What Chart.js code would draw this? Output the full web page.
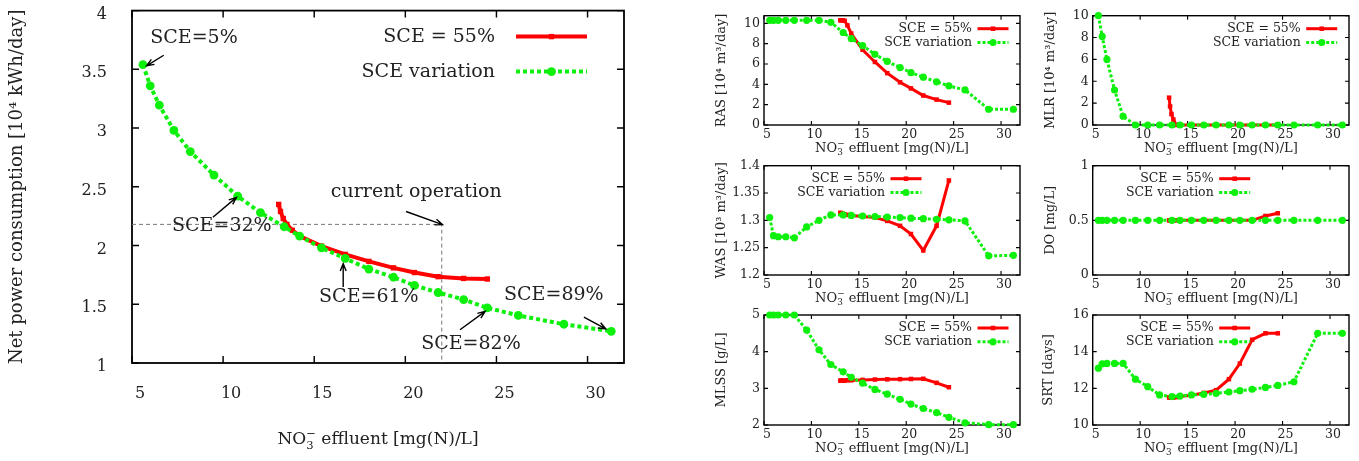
<!DOCTYPE html>
<html>
<head>
<meta charset="utf-8">
<script src="https://cdn.jsdelivr.net/npm/chart.js@4.4.1/dist/chart.umd.min.js"></script>
<style>
  html, body { margin: 0; padding: 0; background: #fff; }
  body { width: 1359px; height: 461px; position: relative; overflow: hidden; }
  canvas { position: absolute; }
</style>
</head>
<body>
<canvas id="main" width="640" height="461" style="left:0;top:0"></canvas>
<canvas id="ras"  width="335" height="160" style="left:690px;top:0"></canvas>
<canvas id="mlr"  width="334" height="160" style="left:1025px;top:0"></canvas>
<canvas id="was"  width="335" height="160" style="left:690px;top:150px"></canvas>
<canvas id="do"   width="334" height="160" style="left:1025px;top:150px"></canvas>
<canvas id="mlss" width="335" height="160" style="left:690px;top:300px"></canvas>
<canvas id="srt"  width="334" height="161" style="left:1025px;top:300px"></canvas>
<script>
// NO3 effluent for each run (SCE variation / fixed SCE = 55%)
const sceX = [5.6, 6.0, 6.5, 7.3, 8.2, 9.5, 10.8, 12.05, 13.35, 14.2, 15.4, 16.7, 18.0, 19.35, 20.5, 21.8, 23.2, 24.5, 26.2, 28.7, 31.3];
const fixX = [13.05, 13.15, 13.3, 13.5, 13.8, 14.2, 15.4, 16.7, 18.0, 19.35, 20.5, 21.8, 23.2, 24.5];

const powerVar = [3.54, 3.36, 3.195, 2.98, 2.80, 2.60, 2.42, 2.28, 2.16, 2.08, 1.98, 1.89, 1.80, 1.73, 1.66, 1.60, 1.54, 1.47, 1.405, 1.33, 1.27];
const powerFix = [2.35, 2.29, 2.23, 2.18, 2.13, 2.08, 1.995, 1.925, 1.865, 1.81, 1.77, 1.735, 1.72, 1.715];

const rasVar = [10.3, 10.3, 10.3, 10.3, 10.3, 10.3, 10.3, 10.1, 9.1, 8.5, 7.8, 6.95, 6.25, 5.65, 5.15, 4.7, 4.25, 3.85, 3.45, 1.55, 1.55];
const rasFix = [10.3, 10.3, 10.3, 10.25, 9.8, 9.0, 7.4, 6.2, 5.1, 4.2, 3.6, 2.9, 2.5, 2.2];

const mlrVar = [10, 8.1, 6.0, 3.2, 0.8, 0, 0, 0, 0, 0, 0, 0, 0, 0, 0, 0, 0, 0, 0, 0, 0];
const mlrFix = [2.5, 1.7, 1.0, 0.5, 0, 0, 0, 0, 0, 0, 0, 0, 0, 0];

const wasVar = [1.305, 1.272, 1.27, 1.27, 1.268, 1.288, 1.30, 1.31, 1.31, 1.309, 1.308, 1.307, 1.306, 1.305, 1.304, 1.303, 1.302, 1.301, 1.299, 1.235, 1.236];
const wasFix = [1.314, 1.313, 1.312, 1.311, 1.31, 1.309, 1.307, 1.305, 1.299, 1.29, 1.275, 1.245, 1.29, 1.373];

const doVar = [0.5, 0.5, 0.5, 0.5, 0.5, 0.5, 0.5, 0.5, 0.5, 0.5, 0.5, 0.5, 0.5, 0.5, 0.5, 0.5, 0.5, 0.5, 0.5, 0.5, 0.5];
const doFix = [0.5, 0.5, 0.5, 0.5, 0.5, 0.5, 0.5, 0.5, 0.5, 0.5, 0.5, 0.5, 0.54, 0.565];

const mlssVar = [5, 5, 5, 5, 5, 4.59, 4.05, 3.65, 3.45, 3.3, 3.14, 2.97, 2.84, 2.7, 2.57, 2.45, 2.34, 2.21, 2.06, 2.01, 2.01];
const mlssFix = [3.21, 3.21, 3.21, 3.21, 3.22, 3.22, 3.23, 3.24, 3.245, 3.25, 3.255, 3.26, 3.15, 3.03];

const srtVar = [13.1, 13.33, 13.36, 13.36, 13.36, 12.5, 12.09, 11.64, 11.55, 11.58, 11.64, 11.67, 11.73, 11.8, 11.87, 11.95, 12.05, 12.16, 12.36, 15.0, 15.0];
const srtFix = [11.5, 11.5, 11.5, 11.5, 11.52, 11.55, 11.62, 11.75, 11.9, 12.5, 13.35, 14.65, 15.0, 15.0];

// ticks
const xTicks = [5, 10, 15, 20, 25, 30];
const powerTicks = [1, 1.5, 2, 2.5, 3, 3.5, 4];
const rasTicks = [0, 2, 4, 6, 8, 10];
const mlrTicks = [0, 2, 4, 6, 8, 10];
const wasTicks = [1.2, 1.25, 1.3, 1.35, 1.4];
const doTicks = [0, 0.5, 1];
const mlssTicks = [2, 3, 4, 5];
const srtTicks = [10, 12, 14, 16];

const seriesLabels = ['SCE = 55%', 'SCE variation'];
const xTitleParts = ['NO', '3', '\u2212', ' effluent [mg(N)/L]'];

// current operation point
const opX = 22.0, opY = 2.18;

// annotations on the big chart
const noteText = ['SCE=5%', 'SCE=32%', 'current operation', 'SCE=61%', 'SCE=82%', 'SCE=89%'];
const noteX = [8.4, 9.93, 20.6, 18.0, 23.6, 28.15];
const noteY = [3.77, 2.165, 2.456, 1.563, 1.164, 1.575];
const arrowFrom = [[6.74, 3.62], [9.44, 2.24], [20.04, 2.29], [16.59, 1.647], [23.0, 1.283], [29.8, 1.39]];
const arrowTo = [[5.8, 3.53], [10.73, 2.41], [22.04, 2.178], [16.59, 1.846], [24.38, 1.44], [31.0, 1.29]];

const FONT = "'DejaVu Serif', 'Liberation Serif', serif";
const INK = '#222';
const RED = '#ff0000';
const GREEN = '#0cf00c';

const pts = (xs, ys) => xs.map((x, i) => ({ x, y: ys[i] }));

// box + gnuplot-like inward ticks on all sides
const framePlugin = {
  id: 'frame',
  beforeDatasetsDraw(chart, args, o) {
    if (!o.len) return;
    const { ctx, chartArea: a, scales } = chart;
    ctx.save();
    ctx.strokeStyle = '#000';
    ctx.lineWidth = o.width;
    ctx.strokeRect(a.left, a.top, a.right - a.left, a.bottom - a.top);
    ctx.lineWidth = o.width * 0.8;
    ctx.beginPath();
    scales.x.ticks.forEach(t => {
      const px = scales.x.getPixelForValue(t.value);
      ctx.moveTo(px, a.bottom); ctx.lineTo(px, a.bottom - o.len);
      ctx.moveTo(px, a.top); ctx.lineTo(px, a.top + o.len);
    });
    scales.y.ticks.forEach(t => {
      const py = scales.y.getPixelForValue(t.value);
      ctx.moveTo(a.left, py); ctx.lineTo(a.left + o.len, py);
      ctx.moveTo(a.right, py); ctx.lineTo(a.right - o.len, py);
    });
    ctx.stroke();
    ctx.restore();
  }
};

// key: text right aligned, sample line to its right
const keyPlugin = {
  id: 'key',
  afterDatasetsDraw(chart, args, o) {
    if (!o.size) return;
    const { ctx, chartArea: a } = chart;
    const tx = a.left + o.x;
    ctx.save();
    ctx.font = o.size + 'px ' + FONT;
    ctx.textAlign = 'right';
    ctx.textBaseline = 'middle';
    chart.data.datasets.filter(d => d.label).forEach((d, i) => {
      const y = a.top + o.y + i * o.gap;
      ctx.fillStyle = INK;
      ctx.fillText(d.label, tx, y);
      const x0 = tx + o.off, x1 = x0 + o.len;
      ctx.strokeStyle = d.borderColor;
      ctx.lineWidth = d.borderWidth;
      ctx.setLineDash(d.borderDash || []);
      ctx.beginPath(); ctx.moveTo(x0, y); ctx.lineTo(x1, y); ctx.stroke();
      ctx.setLineDash([]);
      ctx.fillStyle = d.backgroundColor;
      Chart.helpers.drawPoint(ctx, { pointStyle: d.pointStyle, radius: d.pointRadius, rotation: 0, borderWidth: 0 }, (x0 + x1) / 2, y);
    });
    ctx.restore();
  }
};

// x title with stacked sub/superscript on NO3-
const xTitlePlugin = {
  id: 'xTitle',
  afterDraw(chart, args, o) {
    if (!o.size) return;
    const { ctx, chartArea: a } = chart;
    const big = o.size + 'px ' + FONT, small = (o.size * 0.68) + 'px ' + FONT;
    ctx.save();
    ctx.fillStyle = INK;
    ctx.textAlign = 'left';
    ctx.textBaseline = 'alphabetic';
    ctx.font = big;
    const w1 = ctx.measureText(xTitleParts[0]).width, w3 = ctx.measureText(xTitleParts[3]).width;
    ctx.font = small;
    const w2 = Math.max(ctx.measureText(xTitleParts[1]).width, ctx.measureText(xTitleParts[2]).width);
    let x = (a.left + a.right) / 2 - (w1 + w2 + w3) / 2;
    const y = a.bottom + o.dy;
    ctx.font = big; ctx.fillText(xTitleParts[0], x, y); x += w1;
    ctx.font = small;
    ctx.fillText(xTitleParts[1], x, y + o.size * 0.28);
    ctx.fillText(xTitleParts[2], x, y - o.size * 0.42);
    x += w2;
    ctx.font = big; ctx.fillText(xTitleParts[3], x, y);
    ctx.restore();
  }
};

// labels and arrows on the big chart
const notesPlugin = {
  id: 'notes',
  afterDatasetsDraw(chart, args, o) {
    if (!o.size) return;
    const { ctx, scales: { x, y } } = chart;
    ctx.save();
    ctx.font = o.size + 'px ' + FONT;
    ctx.textAlign = 'center';
    ctx.textBaseline = 'middle';
    ctx.fillStyle = INK;
    noteText.forEach((t, i) => ctx.fillText(t, x.getPixelForValue(noteX[i]), y.getPixelForValue(noteY[i])));
    ctx.strokeStyle = '#000';
    ctx.lineWidth = 1.4;
    arrowFrom.forEach((f, i) => {
      const x0 = x.getPixelForValue(f[0]), y0 = y.getPixelForValue(f[1]);
      const x1 = x.getPixelForValue(arrowTo[i][0]), y1 = y.getPixelForValue(arrowTo[i][1]);
      const ang = Math.atan2(y1 - y0, x1 - x0), h = 8, s = 0.38;
      ctx.beginPath();
      ctx.moveTo(x0, y0); ctx.lineTo(x1, y1);
      ctx.moveTo(x1 - h * Math.cos(ang - s), y1 - h * Math.sin(ang - s));
      ctx.lineTo(x1, y1);
      ctx.lineTo(x1 - h * Math.cos(ang + s), y1 - h * Math.sin(ang + s));
      ctx.stroke();
    });
    ctx.restore();
  }
};

Chart.register(framePlugin, keyPlugin, xTitlePlugin, notesPlugin);

function makeChart(id, cfg) {
  const big = cfg.big;
  const tickFont = { family: FONT, size: big ? 16 : 12.5 };
  const fixed = {
    label: seriesLabels[0],
    data: pts(fixX, cfg.fix),
    showLine: true,
    borderColor: RED,
    backgroundColor: RED,
    borderWidth: big ? 4 : 3,
    pointStyle: 'rect',
    pointRadius: big ? 3.8 : 3.2,
    pointBorderWidth: 0,
    clip: false,
    order: 1
  };
  const vary = {
    label: seriesLabels[1],
    data: pts(sceX, cfg.vary),
    showLine: true,
    borderColor: GREEN,
    backgroundColor: GREEN,
    borderWidth: big ? 4 : 3,
    borderDash: big ? [4, 3] : [3, 2],
    pointStyle: 'circle',
    pointRadius: big ? 4.4 : 3.6,
    pointBorderWidth: 0,
    clip: false,
    order: 0
  };
  const datasets = [fixed, vary];
  if (cfg.guide) {
    datasets.push({
      label: '',
      data: [{ x: 5, y: opY }, { x: opX, y: opY }, { x: opX, y: 1 }],
      showLine: true,
      borderColor: '#777',
      borderWidth: 1,
      borderDash: [4, 3],
      pointRadius: 0,
      order: 3
    });
  }
  return new Chart(document.getElementById(id), {
    type: 'scatter',
    data: { datasets },
    options: {
      responsive: false,
      animation: false,
      events: [],
      layout: { padding: cfg.pad },
      plugins: {
        legend: { display: false },
        tooltip: { enabled: false },
        frame: { len: big ? 7 : 4, width: big ? 1.8 : 1.4 },
        key: cfg.key,
        xTitle: { size: big ? 17 : 13, dy: big ? 81 : 26.5 },
        notes: big ? { size: 19 } : {}
      },
      scales: {
        x: {
          type: 'linear', min: 5, max: 32,
          afterBuildTicks: s => { s.ticks = xTicks.map(v => ({ value: v })); },
          afterFit: s => { s.height = cfg.xh; s.paddingLeft = 0; s.paddingRight = 0; },
          grid: { display: false, drawTicks: false },
          border: { display: false },
          ticks: { font: tickFont, color: INK, padding: big ? 21 : 2, labelOffset: big ? 8 : 3, maxRotation: 0, autoSkip: false, callback: v => String(v) }
        },
        y: {
          type: 'linear', min: cfg.ymin, max: cfg.ymax,
          afterBuildTicks: s => { s.ticks = cfg.yticks.map(v => ({ value: v })); },
          afterFit: s => { s.width = cfg.yw; s.paddingTop = 0; s.paddingBottom = 0; },
          grid: { display: false, drawTicks: false },
          border: { display: false },
          ticks: { font: tickFont, color: INK, padding: big ? 25 : 4, labelOffset: big ? 4 : 0, autoSkip: false, callback: v => String(v) },
          title: { display: true, text: cfg.ytitle, color: INK, font: { family: FONT, size: big ? 18 : 13 }, padding: { top: cfg.ytp } }
        }
      }
    }
  });
}

const keyTR = { size: 12.5, x: 208, y: 13, gap: 13.8, off: 5.5, len: 31 };
const keyTL = { size: 12.5, x: 121, y: 13, gap: 13.8, off: 5.5, len: 31 };
const padL = top => ({ left: 0, right: 5, top, bottom: 0 });
const padR = top => ({ left: 0, right: 10, top, bottom: 0 });

makeChart('main', {
  big: true, guide: true, fix: powerFix, vary: powerVar,
  ymin: 1, ymax: 4, yticks: powerTicks, ytitle: 'Net power consumption [10\u2074 kWh/day]',
  pad: { left: 0, right: 16, top: 10.6, bottom: 0 }, yw: 132, xh: 98, ytp: 7,
  key: { size: 19, x: 363, y: 26, gap: 35, off: 21, len: 71 }
});
makeChart('ras', { fix: rasFix, vary: rasVar, ymin: 0, ymax: 10.75, yticks: rasTicks, ytitle: 'RAS [10\u2074 m\u00b3/day]', pad: padL(15.7), yw: 74, xh: 35, ytp: 24, key: keyTR });
makeChart('mlr', { fix: mlrFix, vary: mlrVar, ymin: 0, ymax: 10, yticks: mlrTicks, ytitle: 'MLR [10\u2074 m\u00b3/day]', pad: padR(15.7), yw: 67.7, xh: 35, ytp: 18, key: keyTR });
makeChart('was', { fix: wasFix, vary: wasVar, ymin: 1.2, ymax: 1.4, yticks: wasTicks, ytitle: 'WAS [10\u00b3 m\u00b3/day]', pad: padL(15.7), yw: 74, xh: 35, ytp: 24, key: keyTL });
makeChart('do', { fix: doFix, vary: doVar, ymin: 0, ymax: 1, yticks: doTicks, ytitle: 'DO [mg/L]', pad: padR(15.7), yw: 67.7, xh: 35, ytp: 18, key: keyTL });
makeChart('mlss', { fix: mlssFix, vary: mlssVar, ymin: 2, ymax: 5, yticks: mlssTicks, ytitle: 'MLSS [g/L]', pad: padL(15), yw: 74, xh: 35, ytp: 24, key: keyTR });
makeChart('srt', { fix: srtFix, vary: srtVar, ymin: 10, ymax: 16, yticks: srtTicks, ytitle: 'SRT [days]', pad: padR(15), yw: 67.7, xh: 36, ytp: 16, key: keyTL });
</script>
</body>
</html>
